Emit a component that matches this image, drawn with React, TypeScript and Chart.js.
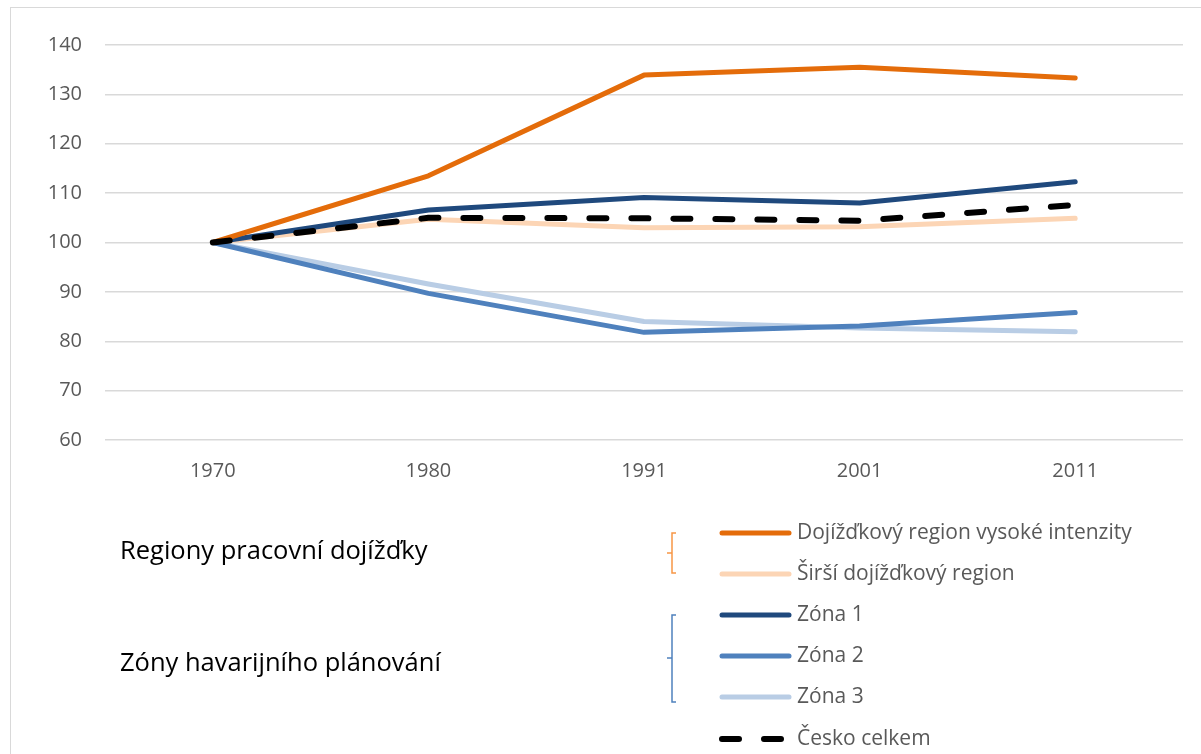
import React, { useEffect, useRef } from "react";
import { Chart, registerables } from "chart.js";

Chart.register(...registerables);

const years = ["1970", "1980", "1991", "2001", "2011"];
const dojizdkovyVysoke = [100, 113.5, 133.9, 135.5, 133.3];
const sirsiRegion = [100, 104.7, 103.0, 103.2, 104.9];
const zona1 = [100, 106.6, 109.1, 108.0, 112.3];
const zona2 = [100, 89.7, 81.8, 83.1, 85.8];
const zona3 = [100, 91.6, 84.0, 82.7, 81.9];
const ceskoCelkem = [100, 105.0, 104.9, 104.4, 107.6];

const seriesLabels = [
  "Dojížďkový region vysoké intenzity",
  "Širší dojížďkový region",
  "Zóna 1",
  "Zóna 2",
  "Zóna 3",
  "Česko celkem",
];
const groupLabels = ["Regiony pracovní dojížďky", "Zóny havarijního plánování"];
const yTicks = [60, 70, 80, 90, 100, 110, 120, 130, 140];

const COLORS = ["#E46C0A", "#FCD5B5", "#1F497D", "#4F81BD", "#B9CDE5", "#000000"];

export default function App() {
  const ref = useRef<HTMLCanvasElement | null>(null);

  useEffect(() => {
    const canvas = ref.current;
    if (!canvas) return;
    const values = [dojizdkovyVysoke, sirsiRegion, zona1, zona2, zona3, ceskoCelkem];
    const dashes: number[][] = [[], [], [], [], [], [17, 25]];
    const widths = [5, 5, 5, 5, 5, 6];
    // draw order: dataset index 0 is drawn on top
    const drawOrder = [5, 0, 2, 3, 4, 1];
    const datasets = drawOrder.map((i) => ({
      label: seriesLabels[i],
      data: values[i],
      borderColor: COLORS[i],
      backgroundColor: COLORS[i],
      borderWidth: widths[i],
      borderDash: dashes[i],
      borderCapStyle: "round" as const,
      borderJoinStyle: "round" as const,
      pointRadius: 0,
      tension: 0,
      fill: false,
    }));

    const legendPlugin = {
      id: "customLegend",
      afterDraw(chart: any) {
        const ctx = chart.ctx;
        ctx.save();
        const rowsY = [533, 574, 615, 656, 697, 739];
        for (let i = 0; i < seriesLabels.length; i++) {
          const y = rowsY[i];
          ctx.beginPath();
          ctx.lineCap = "round";
          ctx.lineWidth = widths[i];
          ctx.strokeStyle = COLORS[i];
          ctx.setLineDash(dashes[i]);
          ctx.moveTo(722, y);
          ctx.lineTo(789, y);
          ctx.stroke();
          ctx.setLineDash([]);
          ctx.fillStyle = "#595959";
          ctx.font = "21px 'Open Sans'";
          ctx.textBaseline = "middle";
          ctx.textAlign = "left";
          ctx.fillText(seriesLabels[i], 797, y);
        }
        // group labels
        ctx.fillStyle = "#000000";
        ctx.font = "25.5px 'Open Sans'";
        ctx.fillText(groupLabels[0], 120, 552);
        ctx.fillText(groupLabels[1], 120, 664);
        // brackets
        ctx.lineCap = "butt";
        ctx.lineWidth = 1.5;
        ctx.strokeStyle = "#F79646";
        ctx.beginPath();
        ctx.moveTo(676, 533);
        ctx.lineTo(672, 533);
        ctx.lineTo(672, 573);
        ctx.lineTo(676, 573);
        ctx.moveTo(667, 553);
        ctx.lineTo(672, 553);
        ctx.stroke();
        ctx.strokeStyle = "#4F81BD";
        ctx.beginPath();
        ctx.moveTo(676, 615);
        ctx.lineTo(672, 615);
        ctx.lineTo(672, 702);
        ctx.lineTo(676, 702);
        ctx.moveTo(667, 658);
        ctx.lineTo(672, 658);
        ctx.stroke();
        ctx.restore();
      },
    };

    const chart = new Chart(canvas, {
      type: "line",
      data: { labels: years, datasets },
      options: {
        animation: false,
        responsive: false,
        devicePixelRatio: 1,
        layout: { padding: { top: 45, right: 18, bottom: 274, left: 0 } },
        plugins: { legend: { display: false }, tooltip: { enabled: false } },
        scales: {
          x: {
            offset: true,
            grid: { display: false, drawTicks: false },
            border: { display: false },
            ticks: {
              color: "#595959",
              font: { family: "'Open Sans'", size: 20 },
              padding: 19,
              maxRotation: 0,
            },
            afterFit(scale: any) {
              scale.height = 40;
            },
          },
          y: {
            min: 60,
            max: 140,
            afterBuildTicks(scale: any) {
              scale.ticks = yTicks.map((v) => ({ value: v }));
            },
            grid: { color: "#D9D9D9", lineWidth: 1.5, drawTicks: false },
            border: { display: false },
            ticks: {
              color: "#595959",
              font: { family: "'Open Sans'", size: 20 },
              padding: 23,
            },
            afterFit(scale: any) {
              scale.width = 105;
            },
          },
        },
      },
      plugins: [legendPlugin],
    });
    return () => chart.destroy();
  }, []);

  return (
    <div
      style={{
        position: "fixed",
        left: 0,
        top: 0,
        width: 1201,
        height: 754,
        background: "#ffffff",
        overflow: "hidden",
      }}
    >
      <div
        style={{
          position: "absolute",
          left: 10,
          top: 7,
          width: 1191,
          height: 747,
          borderLeft: "1px solid #D9D9D9",
          borderTop: "1px solid #D9D9D9",
          boxSizing: "border-box",
        }}
      />
      <canvas
        ref={ref}
        width={1201}
        height={754}
        style={{ position: "absolute", left: 0, top: 0, width: 1201, height: 754 }}
      />
    </div>
  );
}
